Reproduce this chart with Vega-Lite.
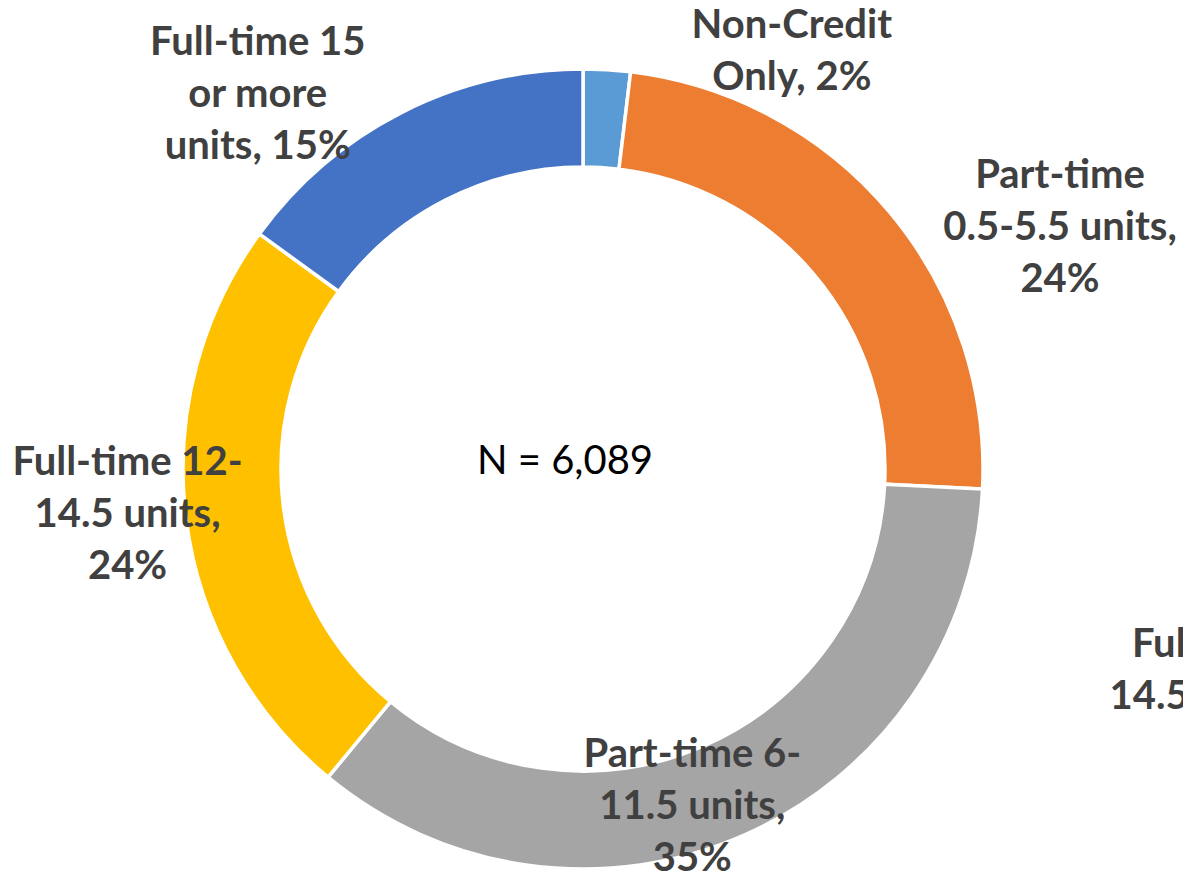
{
  "$schema": "https://vega.github.io/schema/vega-lite/v6.json",
  "width": 1166,
  "height": 822,
  "autosize": {"type": "none"},
  "padding": {"left": 0, "top": 58, "right": 17, "bottom": 0},
  "background": "white",
  "config": {"view": {"stroke": null}},
  "datasets": {
    "segments": [
      {"idx": 1, "category": "Non-Credit Only", "value": 1.9, "label": "Non-Credit\nOnly, 2%"},
      {"idx": 2, "category": "Part-time 0.5-5.5 units", "value": 23.9, "label": "Part-time\n0.5-5.5 units,\n24%"},
      {"idx": 3, "category": "Part-time 6-11.5 units", "value": 35.2, "label": "Part-time 6-\n11.5 units,\n35%"},
      {"idx": 4, "category": "Full-time 12-14.5 units", "value": 24.0, "label": "Full-time 12-\n14.5 units,\n24%"},
      {"idx": 5, "category": "Full-time 15 or more units", "value": 15.0, "label": "Full-time 15\nor more\nunits, 15%"}
    ],
    "center": [{"text": "N = 6,089"}],
    "ghost": [{"text": "Full-time 12-\n14.5 units, 24%"}]
  },
  "layer": [
    {
      "data": {"name": "segments"},
      "mark": {"type": "arc", "outerRadius": 400, "innerRadius": 302, "stroke": "white", "strokeWidth": 3.5},
      "encoding": {
        "theta": {"field": "value", "type": "quantitative", "stack": true},
        "order": {"field": "idx", "type": "quantitative"},
        "color": {
          "field": "category", "type": "nominal", "legend": null,
          "scale": {
            "domain": ["Non-Credit Only", "Part-time 0.5-5.5 units", "Part-time 6-11.5 units", "Full-time 12-14.5 units", "Full-time 15 or more units"],
            "range": ["#5B9BD5", "#ED7D31", "#A5A5A5", "#FFC000", "#4472C4"]
          }
        }
      }
    },
    {
      "data": {"name": "segments"},
      "mark": {"type": "text", "radius": 450, "dx": 182, "dy": 18, "font": "Lato", "fontWeight": "bold", "fontSize": 40, "fill": "#404040", "align": "center", "baseline": "alphabetic", "lineBreak": "\n", "lineHeight": 52},
      "encoding": {
        "theta": {"field": "value", "type": "quantitative", "stack": true},
        "order": {"field": "idx", "type": "quantitative"},
        "detail": {"field": "category"},
        "text": {"condition": {"test": "datum.category === 'Non-Credit Only'", "field": "label"}, "value": ""}
      }
    },
    {
      "data": {"name": "segments"},
      "mark": {"type": "text", "radius": 450, "dx": 133, "dy": 9, "font": "Lato", "fontWeight": "bold", "fontSize": 40, "fill": "#404040", "align": "center", "baseline": "alphabetic", "lineBreak": "\n", "lineHeight": 52},
      "encoding": {
        "theta": {"field": "value", "type": "quantitative", "stack": true},
        "order": {"field": "idx", "type": "quantitative"},
        "detail": {"field": "category"},
        "text": {"condition": {"test": "datum.category === 'Part-time 0.5-5.5 units'", "field": "label"}, "value": ""}
      }
    },
    {
      "data": {"name": "segments"},
      "mark": {"type": "text", "radius": 450, "dx": -72, "dy": -114, "font": "Lato", "fontWeight": "bold", "fontSize": 40, "fill": "#404040", "align": "center", "baseline": "alphabetic", "lineBreak": "\n", "lineHeight": 52},
      "encoding": {
        "theta": {"field": "value", "type": "quantitative", "stack": true},
        "order": {"field": "idx", "type": "quantitative"},
        "detail": {"field": "category"},
        "text": {"condition": {"test": "datum.category === 'Part-time 6-11.5 units'", "field": "label"}, "value": ""}
      }
    },
    {
      "data": {"name": "segments"},
      "mark": {"type": "text", "radius": 450, "dx": -9, "dy": -50, "font": "Lato", "fontWeight": "bold", "fontSize": 40, "fill": "#404040", "align": "center", "baseline": "alphabetic", "lineBreak": "\n", "lineHeight": 52},
      "encoding": {
        "theta": {"field": "value", "type": "quantitative", "stack": true},
        "order": {"field": "idx", "type": "quantitative"},
        "detail": {"field": "category"},
        "text": {"condition": {"test": "datum.category === 'Full-time 12-14.5 units'", "field": "label"}, "value": ""}
      }
    },
    {
      "data": {"name": "segments"},
      "mark": {"type": "text", "radius": 450, "dx": -121, "dy": -13, "font": "Lato", "fontWeight": "bold", "fontSize": 40, "fill": "#404040", "align": "center", "baseline": "alphabetic", "lineBreak": "\n", "lineHeight": 52},
      "encoding": {
        "theta": {"field": "value", "type": "quantitative", "stack": true},
        "order": {"field": "idx", "type": "quantitative"},
        "detail": {"field": "category"},
        "text": {"condition": {"test": "datum.category === 'Full-time 15 or more units'", "field": "label"}, "value": ""}
      }
    },
    {
      "data": {"name": "center"},
      "mark": {"type": "text", "dx": -18, "dy": 5, "font": "Lato", "fontSize": 40, "fill": "#000000", "align": "center", "baseline": "alphabetic"},
      "encoding": {"text": {"field": "text"}}
    },
    {
      "data": {"name": "ghost"},
      "mark": {"type": "text", "dx": 664, "dy": 188, "font": "Lato", "fontWeight": "bold", "fontSize": 40, "fill": "#404040", "align": "center", "baseline": "alphabetic", "lineBreak": "\n", "lineHeight": 52},
      "encoding": {"text": {"field": "text"}}
    }
  ]
}
